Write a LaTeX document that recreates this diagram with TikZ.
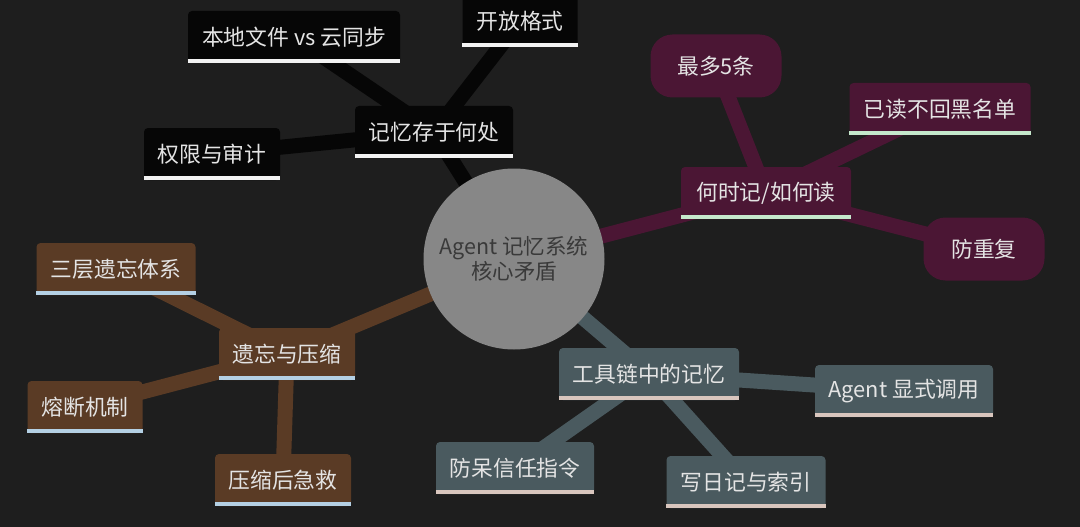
\documentclass[tikz,border=0pt]{standalone}
\usepackage{fontspec}
\newfontfamily\cjk{Noto Sans CJK SC}
\definecolor{bgc}{HTML}{1E1E1E}
\definecolor{blk}{HTML}{060606}
\definecolor{pur}{HTML}{4B1634}
\definecolor{brn}{HTML}{5A3B25}
\definecolor{slt}{HTML}{4A5A5F}
\definecolor{circ}{HTML}{878787}
\definecolor{ctext}{HTML}{3A3A3A}
\definecolor{txt}{HTML}{E4E4E4}
\definecolor{ulw}{HTML}{F2F2F2}
\definecolor{ulg}{HTML}{C5E8CC}
\definecolor{ulb}{HTML}{B4D0E4}
\definecolor{ulp}{HTML}{D9C6BE}
\pgfdeclarelayer{bg}
\pgfdeclarelayer{edges}
\pgfsetlayers{bg,edges,main}
\begin{document}
\begin{tikzpicture}[x=1pt,y=-1pt,
  box/.style={rectangle, rounded corners=4pt, minimum height=52pt, inner sep=0pt,
    font=\cjk\fontsize{21.8}{25}\selectfont, text=txt},
  pill/.style={box, rounded corners=22pt, minimum height=63pt},
  blackbox/.style={box, fill=blk},
  purbox/.style={box, fill=pur},
  purpill/.style={pill, fill=pur},
  brnbox/.style={box, fill=brn},
  sltbox/.style={box, fill=slt},
  edge/.style={line width=15pt},
  uline/.style={line width=4pt}
]
\begin{pgfonlayer}{bg}
\fill[bgc] (0,0) rectangle (1080,527);
\end{pgfonlayer}
\useasboundingbox (0,0) rectangle (1080,527);

% center
\node[circle, fill=circ, minimum size=181pt, inner sep=0pt, text=ctext,
  font=\cjk\fontsize{21.5}{23}\selectfont, align=center] (c) at (514,259)
  {Agent 记忆系统\\核心矛盾};

% black branch
\node[blackbox, minimum width=158pt] (m1) at (434,132) {记忆存于何处};
\node[blackbox, minimum width=212pt] (m1a) at (294,37) {本地文件 vs 云同步};
\node[blackbox, minimum width=115pt] (m1b) at (520,21) {开放格式};
\node[blackbox, minimum width=136pt] (m1c) at (212,154) {权限与审计};

% purple branch
\node[purbox, minimum width=170pt] (m2) at (766,193) {何时记/如何读};
\node[purpill, minimum width=131pt] (m2a) at (716,66) {最多5条};
\node[purbox, minimum width=181pt] (m2b) at (940,109) {已读不回黑名单};
\node[purpill, minimum width=121pt] (m2c) at (984,249) {防重复};

% brown branch
\node[brnbox, minimum width=136pt] (m3) at (287,354) {遗忘与压缩};
\node[brnbox, minimum width=159pt] (m3a) at (116,269) {三层遗忘体系};
\node[brnbox, minimum width=115pt] (m3b) at (85,407) {熔断机制};
\node[brnbox, minimum width=136pt] (m3c) at (283,480) {压缩后急救};

% slate branch
\node[sltbox, minimum width=180pt] (m4) at (649,374) {工具链中的记忆};
\node[sltbox, minimum width=178pt] (m4a) at (904,391) {Agent 显式调用};
\node[sltbox, minimum width=158pt] (m4b) at (515,468) {防呆信任指令};
\node[sltbox, minimum width=159pt] (m4c) at (746,482) {写日记与索引};

% underlines
\foreach \n in {m1,m1a,m1b,m1c}
  \draw[uline, ulw] ([yshift=2pt]\n.south west) -- ([yshift=2pt]\n.south east);
\foreach \n in {m2,m2b}
  \draw[uline, ulg] ([yshift=2pt]\n.south west) -- ([yshift=2pt]\n.south east);
\foreach \n in {m3,m3a,m3b,m3c}
  \draw[uline, ulb] ([yshift=2pt]\n.south west) -- ([yshift=2pt]\n.south east);
\foreach \n in {m4,m4a,m4b,m4c}
  \draw[uline, ulp] ([yshift=2pt]\n.south west) -- ([yshift=2pt]\n.south east);

% connectors
\begin{pgfonlayer}{edges}
\draw[edge, blk] (c.center) -- (m1.center);
\draw[edge, blk] (m1.center) -- (m1a.center);
\draw[edge, blk] (m1.center) -- (m1b.center);
\draw[edge, blk] (m1.center) -- (m1c.center);
\draw[edge, pur] (c.center) -- (m2.center);
\draw[edge, pur] (m2.center) -- (m2a.center);
\draw[edge, pur] (m2.center) -- (m2b.center);
\draw[edge, pur] (m2.center) -- (m2c.center);
\draw[edge, brn] (c.center) -- (m3.center);
\draw[edge, brn] (m3.center) -- (m3a.center);
\draw[edge, brn] (m3.center) -- (m3b.center);
\draw[edge, brn] (m3.center) -- (m3c.center);
\draw[edge, slt] (c.center) -- (m4.center);
\draw[edge, slt] (m4.center) -- (m4a.center);
\draw[edge, slt] (m4.center) -- (m4b.center);
\draw[edge, slt] (m4.center) -- (m4c.center);
\end{pgfonlayer}
\end{tikzpicture}
\end{document}
